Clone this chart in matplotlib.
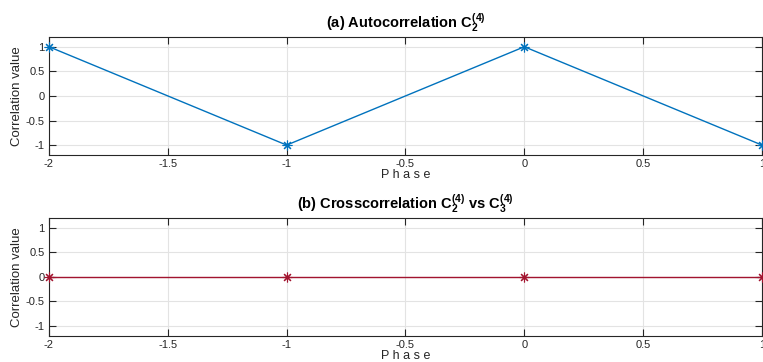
import matplotlib.pyplot as plt

plt.rcParams['font.family'] = ['Liberation Sans', 'DejaVu Sans']
plt.rcParams['mathtext.fontset'] = 'custom'
plt.rcParams['mathtext.rm'] = 'Liberation Sans'
plt.rcParams['mathtext.bf'] = 'Liberation Sans:bold'

phase = [-2, -1, 0, 1]
auto_corr = [1, -1, 1, -1]
cross_corr = [0, 0, 0, 0]

xticks = [-2, -1.5, -1, -0.5, 0, 0.5, 1]
xticklabels = ['-2', '-1.5', '-1', '-0.5', '0', '0.5', '1']
yticks = [-1, -0.5, 0, 0.5, 1]
yticklabels = ['-1', '-0.5', '0', '0.5', '1']

fig = plt.figure(figsize=(7.63, 3.62), dpi=100)
ax1 = fig.add_axes([0.0642, 0.572, 0.9345, 0.326])
ax2 = fig.add_axes([0.0642, 0.0727, 0.9345, 0.326])

panels = [
    (ax1, auto_corr, '#0072BD', r'(a) Autocorrelation $\mathbf{C}_\mathbf{2}^{\mathbf{(4)}}$'),
    (ax2, cross_corr, '#A2142F', r'(b) Crosscorrelation $\mathbf{C}_\mathbf{2}^{\mathbf{(4)}}$ vs $\mathbf{C}_\mathbf{3}^{\mathbf{(4)}}$'),
]

for ax, vals, col, title in panels:
    ax.plot(phase, vals, color=col, linewidth=1, marker=(8, 2, 0),
            markersize=7, markeredgewidth=0.8, clip_on=False, zorder=3)
    ax.set_xlim(-2, 1)
    ax.set_ylim(-1.2, 1.2)
    ax.set_xticks(xticks)
    ax.set_xticklabels(xticklabels)
    ax.set_yticks(yticks)
    ax.set_yticklabels(yticklabels)
    ax.grid(True, color='#e3e3e3', linewidth=0.8)
    ax.set_axisbelow(True)
    ax.tick_params(direction='in', length=5, width=0.8, labelsize=8,
                   top=True, right=True, colors='#262626', pad=3)
    for s in ax.spines.values():
        s.set_color('#262626')
        s.set_linewidth(0.8)
    ax.set_title(title, fontsize=10.5, fontweight='bold', pad=6)
    ax.set_ylabel('Correlation value', fontsize=9.5, color='#262626', labelpad=2)
    ax.set_xlabel('P h a s e', fontsize=9, color='#262626', labelpad=0)

plt.savefig('out.png', dpi=100)
